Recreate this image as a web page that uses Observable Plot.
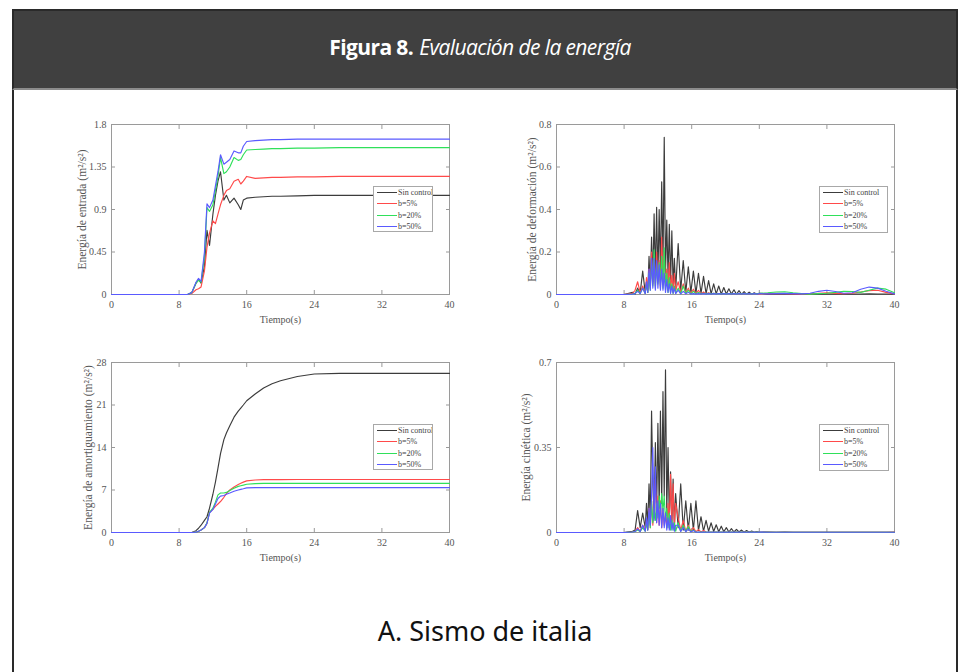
<!DOCTYPE html>
<html>
<head>
<meta charset="utf-8">
<script src="https://cdn.jsdelivr.net/npm/d3@7"></script>
<script src="https://cdn.jsdelivr.net/npm/@observablehq/plot@0.6"></script>
<style>
html,body{margin:0;padding:0;background:#fff;width:961px;height:672px;overflow:hidden;position:relative;}
#frame{position:absolute;left:12px;top:9px;width:946px;height:700px;border:2px solid #2a2a2a;box-sizing:border-box;}
#header{position:absolute;left:12px;top:9px;width:946px;height:81px;background:#404040;border:2px solid #2a2a2a;border-bottom:2px solid #8c8c8c;box-sizing:border-box;display:flex;align-items:center;justify-content:center;color:#fff;font-family:"Open Sans",sans-serif;font-size:21px;letter-spacing:-0.6px;padding-bottom:5px;padding-right:10px;}
#header b{font-weight:700;margin-right:6px;}
#header i{font-style:italic;font-weight:400;}
.panel{position:absolute;}
.legend{position:absolute;background:#fff;border:1px solid #a8a8a8;box-sizing:border-box;font-family:"Liberation Serif",serif;font-size:8px;color:#444;white-space:nowrap;overflow:hidden;}
.legend .row{height:11.3px;display:flex;align-items:center;}
.legend .sw{width:20px;height:0;border-top:1.3px solid;margin:0 1px 0 3px;flex:none;}
#caption{position:absolute;left:12px;width:946px;top:612px;text-align:center;font-family:"Noto Sans",sans-serif;font-size:27px;color:#111;}
</style>
</head>
<body>
<div id="frame"></div>
<div id="header"><b>Figura 8.</b><i>Evaluación de la energía</i></div>
<div id="caption">A. Sismo de italia</div>
<script>
// ---------- data ----------
const seriesNames = ["Sin control", "b=5%", "b=20%", "b=50%"];
const seriesColors = ["#3c3c3c", "#ff4a4a", "#2fe05a", "#5a5aff"];
const xTicks = [0, 8, 16, 24, 32, 40];

// smooth (cumulative) panels
const smoothTime = [0, 9, 9.5, 10, 10.3, 10.6, 11, 11.3, 11.6, 12, 12.3, 12.6, 12.9, 13.3, 13.6, 14, 14.5, 15, 15.3, 15.6, 16, 17, 18, 19, 20, 22, 24, 27, 30, 35, 40];

const inputTicks = [0, 0.45, 0.9, 1.35, 1.8];
const inputSin = [0, 0, 0.02, 0.12, 0.16, 0.12, 0.30, 0.68, 0.52, 0.85, 1.05, 1.20, 1.30, 1.00, 1.05, 0.97, 1.02, 0.95, 0.90, 1.00, 1.02, 1.03, 1.035, 1.04, 1.04, 1.045, 1.05, 1.05, 1.05, 1.05, 1.05];
const input5 = [0, 0, 0.01, 0.05, 0.06, 0.08, 0.25, 0.50, 0.65, 0.78, 0.75, 0.85, 0.95, 1.05, 1.10, 1.12, 1.20, 1.22, 1.17, 1.20, 1.25, 1.23, 1.235, 1.24, 1.24, 1.245, 1.245, 1.25, 1.25, 1.25, 1.25];
const input20 = [0, 0, 0.02, 0.12, 0.15, 0.13, 0.40, 0.92, 0.88, 0.95, 1.10, 1.25, 1.45, 1.28, 1.30, 1.35, 1.45, 1.42, 1.43, 1.48, 1.53, 1.535, 1.54, 1.545, 1.545, 1.55, 1.55, 1.555, 1.555, 1.555, 1.555];
const input50 = [0, 0, 0.02, 0.13, 0.17, 0.14, 0.45, 0.96, 0.92, 1.00, 1.15, 1.30, 1.48, 1.38, 1.40, 1.43, 1.52, 1.50, 1.50, 1.57, 1.62, 1.63, 1.635, 1.64, 1.64, 1.645, 1.645, 1.645, 1.645, 1.645, 1.645];

const dampTicks = [0, 7, 14, 21, 28];
const dampSin = [0, 0, 0, 0.3, 0.7, 1.2, 2.0, 2.6, 4.0, 6.3, 8.3, 10.6, 13.0, 15.3, 16.4, 17.6, 19.0, 20.0, 20.5, 21.0, 21.7, 22.8, 23.8, 24.5, 25.0, 25.7, 26.1, 26.2, 26.2, 26.2, 26.2];
const damp5 = [0, 0, 0, 0.05, 0.2, 0.4, 0.8, 1.5, 3.3, 3.8, 4.3, 4.7, 5.1, 5.8, 6.4, 7.0, 7.5, 7.9, 8.1, 8.3, 8.5, 8.65, 8.7, 8.7, 8.72, 8.73, 8.73, 8.73, 8.73, 8.73, 8.73];
const damp20 = [0, 0, 0, 0.05, 0.2, 0.4, 0.8, 1.6, 3.3, 4.0, 5.0, 6.2, 6.5, 6.5, 6.6, 6.9, 7.3, 7.6, 7.7, 7.8, 7.95, 8.05, 8.1, 8.1, 8.1, 8.1, 8.1, 8.1, 8.1, 8.1, 8.1];
const damp50 = [0, 0, 0, 0.05, 0.2, 0.4, 0.8, 1.5, 3.2, 3.8, 4.7, 5.6, 6.0, 6.1, 6.3, 6.5, 6.8, 7.0, 7.1, 7.2, 7.35, 7.4, 7.4, 7.4, 7.4, 7.4, 7.4, 7.4, 7.4, 7.4, 7.4];

// oscillating panels
const oscTime = [0, 8, 9.0, 9.3, 9.6, 9.9, 10.2, 10.5,
  10.65, 10.8, 10.95, 11.1, 11.25, 11.4, 11.55, 11.7, 11.85, 12.0, 12.15, 12.3, 12.45, 12.6, 12.75, 12.9, 13.05, 13.2, 13.35, 13.5, 13.65, 13.8, 13.95, 14.1,
  14.4, 14.7, 15.0, 15.3, 15.6, 15.9, 16.2, 16.5, 16.8, 17.1, 17.4, 17.7, 18.0, 18.3, 18.6, 18.9, 19.2, 19.5, 19.8, 20.1, 20.4, 20.7, 21.0, 21.3, 21.6, 21.9, 22.2, 22.5, 22.8, 23.1, 23.4, 23.7, 24.0,
  25, 26, 27, 28, 29, 30, 31, 32, 33, 34, 35, 36, 37, 38, 39, 40];

const deformTicks = [0, 0.2, 0.4, 0.6, 0.8];
const deformSin = [0, 0, 0.01, 0.002, 0.03, 0.005, 0.11, 0.01,
  0.06, 0.01, 0.18, 0.04, 0.27, 0.06, 0.38, 0.08, 0.41, 0.07, 0.40, 0.10, 0.53, 0.12, 0.74, 0.10, 0.35, 0.08, 0.33, 0.05, 0.30, 0.04, 0.17, 0.02,
  0.24, 0.02, 0.16, 0.01, 0.13, 0.01, 0.11, 0.005, 0.10, 0.005, 0.085, 0.004, 0.065, 0.003, 0.05, 0.003, 0.04, 0.002, 0.033, 0.002, 0.027, 0.002, 0.022, 0.001, 0.018, 0.001, 0.014, 0.001, 0.011, 0.001, 0.008, 0.001, 0.006,
  0.002, 0.003, 0.002, 0.003, 0.002, 0.002, 0.003, 0.002, 0.002, 0.003, 0.002, 0.002, 0.003, 0.002, 0.002, 0.002];
const deform5 = [0, 0, 0.005, 0.02, 0.06, 0.01, 0.04, 0.005,
  0.08, 0.02, 0.12, 0.03, 0.20, 0.05, 0.15, 0.04, 0.20, 0.06, 0.16, 0.03, 0.27, 0.05, 0.20, 0.04, 0.12, 0.02, 0.15, 0.03, 0.09, 0.01, 0.10, 0.02,
  0.06, 0.01, 0.05, 0.005, 0.03, 0.005, 0.025, 0.003, 0.02, 0.003, 0.012, 0.002, 0.008, 0.002, 0.006, 0.002, 0.005, 0.002, 0.004, 0.002, 0.004, 0.002, 0.003, 0.002, 0.003, 0.002, 0.003, 0.002, 0.003, 0.002, 0.003, 0.002, 0.003,
  0.004, 0.005, 0.004, 0.003, 0.002, 0.003, 0.006, 0.008, 0.005, 0.004, 0.006, 0.012, 0.018, 0.02, 0.01, 0.003];
const deform20 = [0, 0, 0.002, 0.005, 0.02, 0.005, 0.03, 0.005,
  0.05, 0.01, 0.10, 0.02, 0.16, 0.04, 0.21, 0.03, 0.14, 0.05, 0.15, 0.04, 0.18, 0.03, 0.22, 0.02, 0.10, 0.01, 0.08, 0.01, 0.05, 0.005, 0.04, 0.005,
  0.03, 0.004, 0.04, 0.004, 0.02, 0.003, 0.015, 0.003, 0.01, 0.003, 0.006, 0.003, 0.005, 0.003, 0.005, 0.003, 0.004, 0.003, 0.004, 0.003, 0.004, 0.003, 0.004, 0.003, 0.004, 0.003, 0.004, 0.003, 0.004, 0.003, 0.004, 0.003, 0.005,
  0.008, 0.012, 0.013, 0.008, 0.004, 0.002, 0.004, 0.006, 0.01, 0.015, 0.014, 0.01, 0.02, 0.03, 0.025, 0.008];
const deform50 = [0, 0, 0.002, 0.004, 0.015, 0.004, 0.03, 0.004,
  0.06, 0.01, 0.12, 0.02, 0.17, 0.03, 0.17, 0.02, 0.16, 0.03, 0.14, 0.02, 0.12, 0.02, 0.10, 0.01, 0.07, 0.01, 0.05, 0.005, 0.04, 0.005, 0.03, 0.004,
  0.02, 0.003, 0.015, 0.003, 0.01, 0.002, 0.004, 0.002, 0.004, 0.002, 0.004, 0.002, 0.004, 0.002, 0.004, 0.002, 0.004, 0.002, 0.004, 0.002, 0.004, 0.002, 0.004, 0.002, 0.004, 0.002, 0.004, 0.002, 0.004, 0.002, 0.004, 0.002, 0.004,
  0.003, 0.004, 0.005, 0.004, 0.003, 0.006, 0.015, 0.02, 0.014, 0.006, 0.008, 0.025, 0.035, 0.03, 0.015, 0.003];

const kinTicks = [0, 0.35, 0.7];
const kinSin = [0, 0, 0.005, 0.01, 0.09, 0.02, 0.08, 0.02,
  0.12, 0.03, 0.20, 0.04, 0.50, 0.20, 0.06, 0.37, 0.08, 0.45, 0.10, 0.50, 0.12, 0.58, 0.15, 0.67, 0.08, 0.35, 0.05, 0.25, 0.03, 0.22, 0.02, 0.16,
  0.02, 0.20, 0.01, 0.13, 0.01, 0.12, 0.01, 0.13, 0.008, 0.065, 0.006, 0.05, 0.005, 0.04, 0.004, 0.032, 0.003, 0.026, 0.003, 0.02, 0.002, 0.016, 0.002, 0.013, 0.002, 0.01, 0.001, 0.008, 0.001, 0.006, 0.001, 0.004, 0.001,
  0.002, 0.001, 0.002, 0.001, 0.001, 0.001, 0.001, 0.001, 0.001, 0.001, 0.001, 0.001, 0.001, 0.001, 0.001, 0.001];
const kin5 = [0, 0, 0.002, 0.005, 0.02, 0.005, 0.03, 0.01,
  0.05, 0.01, 0.10, 0.02, 0.13, 0.03, 0.12, 0.22, 0.04, 0.15, 0.03, 0.13, 0.02, 0.10, 0.03, 0.08, 0.02, 0.12, 0.04, 0.24, 0.05, 0.20, 0.03, 0.12,
  0.06, 0.01, 0.05, 0.005, 0.03, 0.004, 0.02, 0.003, 0.012, 0.002, 0.008, 0.002, 0.001, 0.002, 0.001, 0.002, 0.001, 0.002, 0.001, 0.002, 0.001, 0.002, 0.001, 0.002, 0.001, 0.002, 0.001, 0.002, 0.001, 0.002, 0.001, 0.002, 0.001,
  0.001, 0.001, 0.001, 0.001, 0.001, 0.001, 0.001, 0.001, 0.001, 0.001, 0.001, 0.001, 0.001, 0.001, 0.001, 0.002];
const kin20 = [0, 0, 0.002, 0.004, 0.01, 0.004, 0.02, 0.005,
  0.04, 0.01, 0.08, 0.02, 0.13, 0.04, 0.10, 0.05, 0.12, 0.06, 0.15, 0.08, 0.16, 0.09, 0.15, 0.05, 0.10, 0.02, 0.08, 0.01, 0.05, 0.01, 0.04, 0.005,
  0.04, 0.005, 0.03, 0.004, 0.025, 0.003, 0.01, 0.002, 0.001, 0.002, 0.001, 0.002, 0.001, 0.002, 0.001, 0.002, 0.001, 0.002, 0.001, 0.002, 0.001, 0.002, 0.001, 0.002, 0.001, 0.002, 0.001, 0.002, 0.001, 0.002, 0.001, 0.002, 0.001,
  0.001, 0.001, 0.001, 0.001, 0.001, 0.001, 0.001, 0.001, 0.001, 0.001, 0.001, 0.001, 0.001, 0.001, 0.001, 0.001];
const kin50 = [0, 0, 0.002, 0.004, 0.015, 0.004, 0.03, 0.005,
  0.06, 0.01, 0.10, 0.03, 0.15, 0.35, 0.05, 0.27, 0.04, 0.13, 0.03, 0.12, 0.02, 0.10, 0.02, 0.08, 0.01, 0.06, 0.01, 0.07, 0.01, 0.04, 0.005, 0.03,
  0.03, 0.004, 0.02, 0.003, 0.015, 0.002, 0.008, 0.001, 0.002, 0.001, 0.002, 0.001, 0.002, 0.001, 0.002, 0.001, 0.002, 0.001, 0.002, 0.001, 0.002, 0.001, 0.002, 0.001, 0.002, 0.001, 0.002, 0.001, 0.002, 0.001, 0.002, 0.001, 0.002,
  0.001, 0.001, 0.001, 0.001, 0.001, 0.001, 0.001, 0.001, 0.001, 0.001, 0.001, 0.001, 0.001, 0.001, 0.001, 0.001];

// ---------- drawing ----------
const fmt = d => String(d);
const blank = () => "";

function panel({left, top, width, height, mL, mR, mT, mB, time, series, yTicks, yLabel, yLabelOffset, legend}) {
  const div = document.createElement("div");
  div.className = "panel";
  div.style.left = left + "px";
  div.style.top = top + "px";
  const chart = Plot.plot({
    width, height,
    marginLeft: mL, marginRight: mR, marginTop: mT, marginBottom: mB,
    style: {fontFamily: '"Liberation Serif", serif', fontSize: "10px", color: "#555", background: "none", overflow: "visible"},
    x: {domain: [0, 40]},
    y: {domain: [yTicks[0], yTicks[yTicks.length - 1]]},
    marks: [
      Plot.frame({stroke: "#9a9a9a"}),
      // inward tick marks on all four sides
      Plot.axisX({anchor: "bottom", ticks: xTicks, tickSize: -4, stroke: "#999", tickFormat: blank, label: null}),
      Plot.axisX({anchor: "top", ticks: xTicks, tickSize: -4, stroke: "#999", tickFormat: blank, label: null}),
      Plot.axisY({anchor: "left", ticks: yTicks, tickSize: -4, stroke: "#999", tickFormat: blank, label: null}),
      Plot.axisY({anchor: "right", ticks: yTicks, tickSize: -4, stroke: "#999", tickFormat: blank, label: null}),
      // tick labels and titles
      Plot.axisX({anchor: "bottom", ticks: xTicks, tickSize: 0, tickPadding: 6, tickFormat: fmt, label: null}),
      Plot.axisX({anchor: "bottom", ticks: [], tickSize: 0, label: "Tiempo(s)", labelAnchor: "center", labelArrow: "none", labelOffset: 28, fontWeight: "normal"}),
      Plot.axisY({anchor: "left", ticks: yTicks, tickSize: 0, tickPadding: 5, tickFormat: fmt, label: null}),
      Plot.axisY({anchor: "left", ticks: [], tickSize: 0, label: yLabel, labelAnchor: "center", labelArrow: "none", labelOffset: yLabelOffset, fontSize: 11.5}),
      ...series.map((vals, i) => Plot.line(vals, {x: time, y: vals, stroke: seriesColors[i], strokeWidth: 1.15}))
    ]
  });
  div.appendChild(chart);
  document.body.appendChild(div);

  const lg = document.createElement("div");
  lg.className = "legend";
  lg.style.left = legend[0] + "px";
  lg.style.top = legend[1] + "px";
  lg.style.width = legend[2] + "px";
  lg.style.height = legend[3] + "px";
  seriesNames.forEach((name, i) => {
    const row = document.createElement("div");
    row.className = "row";
    const sw = document.createElement("span");
    sw.className = "sw";
    sw.style.borderTopColor = seriesColors[i];
    const tx = document.createElement("span");
    tx.textContent = name;
    row.appendChild(sw);
    row.appendChild(tx);
    lg.appendChild(row);
  });
  document.body.appendChild(lg);
}

panel({left: 60, top: 110, width: 400, height: 214, mL: 51, mR: 11, mT: 14, mB: 30,
  time: smoothTime, series: [inputSin, input5, input20, input50], yTicks: inputTicks,
  yLabel: "Energía de entrada (m²/s²)", yLabelOffset: 34, legend: [373, 186, 60, 46]});
panel({left: 500, top: 110, width: 420, height: 214, mL: 56, mR: 26, mT: 14, mB: 30,
  time: oscTime, series: [deformSin, deform5, deform20, deform50], yTicks: deformTicks,
  yLabel: "Energía de deformación (m²/s²)", yLabelOffset: 29, legend: [819, 186, 69, 47]});
panel({left: 60, top: 348, width: 400, height: 214, mL: 51, mR: 11, mT: 14, mB: 30,
  time: smoothTime, series: [dampSin, damp5, damp20, damp50], yTicks: dampTicks,
  yLabel: "Energía de amortiguamiento (m²/s²)", yLabelOffset: 28, legend: [373, 424, 60, 46]});
panel({left: 500, top: 348, width: 420, height: 214, mL: 56, mR: 26, mT: 14, mB: 30,
  time: oscTime, series: [kinSin, kin5, kin20, kin50], yTicks: kinTicks,
  yLabel: "Energía cinética (m²/s²)", yLabelOffset: 35, legend: [819, 424, 70, 47]});
</script>
</body>
</html>
